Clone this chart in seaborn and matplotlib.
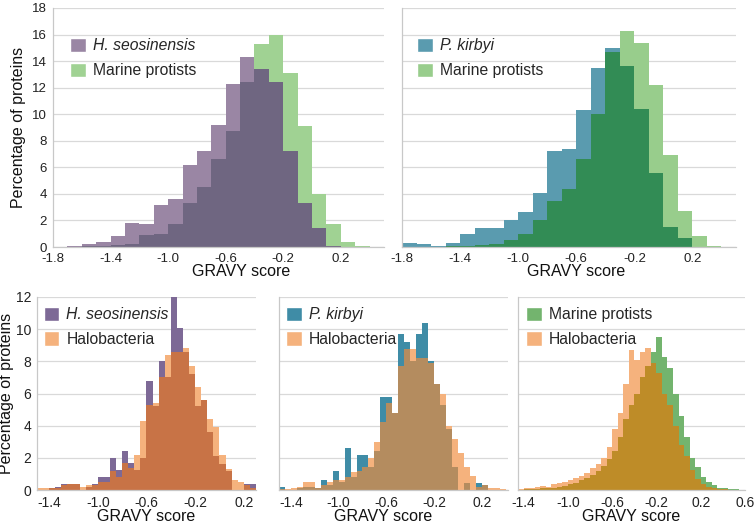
import numpy as np
import pandas as pd
import matplotlib
matplotlib.use('Agg')
import matplotlib.pyplot as plt
from matplotlib.patches import Patch
import seaborn as sns

sns.set_style('white')
plt.rcParams['font.family'] = ['Liberation Sans', 'DejaVu Sans']

# ---- data: percentage of proteins per GRAVY bin ----
# top row: 0.1 wide bins from -1.8 to 0.5
top_bins = np.linspace(-1.8, 0.5, 24)
tl_hseo = [0, 0.1, 0.2, 0.4, 0.85, 1.8, 1.7, 3.2, 3.6, 6.2, 7.2, 9.2, 12.3, 14.3, 13.4, 12.4, 7.2, 3.3, 1.4, 0.1, 0, 0, 0]
tl_marine = [0, 0.03, 0.05, 0.1, 0.15, 0.2, 0.9, 1.0, 1.7, 3.3, 4.5, 6.6, 8.7, 12.4, 15.3, 16.0, 13.1, 9.1, 4.0, 1.7, 0.4, 0.05, 0]
tr_pkir = [0.3, 0.2, 0.1, 0.3, 1.0, 1.45, 1.45, 2.0, 2.6, 4.1, 7.25, 7.35, 10.3, 13.5, 15.0, 13.6, 10.4, 5.6, 1.5, 0.65, 0, 0, 0]
tr_marine = [0, 0, 0, 0.05, 0.1, 0.15, 0.2, 0.5, 1.0, 2.0, 3.5, 4.4, 6.6, 10.0, 14.7, 16.3, 15.4, 12.2, 6.9, 2.7, 0.8, 0.1, 0]

# bottom left: 0.05 wide bins from -1.5 to 0.3
bl_bins = np.linspace(-1.5, 0.3, 37)
bl_hseo = [0, 0, 0.1, 0.2, 0.4, 0.4, 0.4, 0, 0.2, 0.4, 0.8, 0.8, 2.0, 1.25, 2.4, 1.7, 1.25, 2.0,
           6.75, 5.2, 8.0, 7.0, 12.0, 10.1, 8.6, 7.2, 5.2, 5.6, 3.6, 2.1, 1.6, 1.2, 0, 0, 0.4, 0.4]
bl_halo = [0.1, 0.1, 0.1, 0.1, 0.3, 0.4, 0.4, 0.2, 0.3, 0.3, 0.5, 0.5, 1.2, 0.8, 1.7, 1.35, 2.2, 4.3,
           5.3, 5.4, 7.0, 8.4, 8.6, 8.6, 8.8, 7.7, 6.4, 5.6, 4.4, 3.9, 2.2, 1.3, 0.6, 0.5, 0.3, 0.1]

# bottom middle: 0.05 wide bins from -1.5 to 0.4
bm_bins = np.linspace(-1.5, 0.4, 39)
bm_pkir = [0.2, 0, 0, 0.1, 0.2, 0.2, 0.1, 0.6, 0.3, 1.2, 0.5, 2.6, 0.8, 2.15, 2.15, 1.4, 2.4, 5.8, 5.8,
           4.8, 9.7, 9.2, 8.0, 9.7, 10.4, 8.0, 6.6, 5.3, 3.8, 1.4, 0, 0.45, 0, 0.45, 0.3, 0, 0, 0]
bm_halo = [0.05, 0.05, 0.1, 0.2, 0.5, 0.5, 0.1, 0.3, 0.5, 0.6, 0.6, 0.8, 1.1, 1.2, 1.4, 2.0, 3.0, 4.2, 5.4,
           4.8, 7.7, 8.75, 8.75, 8.2, 8.2, 7.9, 6.6, 6.0, 4.0, 3.2, 2.3, 1.4, 0.9, 0.2, 0.3, 0.15, 0.1, 0.05]

# bottom right: 0.05 wide bins from -1.45 to 0.6
br_bins = np.linspace(-1.45, 0.6, 42)
br_marine = [0, 0.05, 0.05, 0.05, 0.1, 0.1, 0.15, 0.2, 0.25, 0.35, 0.45, 0.6, 0.75, 0.95, 1.2, 1.5, 1.9, 2.4,
             3.3, 4.4, 5.3, 6.0, 7.0, 7.7, 8.6, 9.5, 8.3, 7.6, 6.0, 4.6, 3.3, 2.0, 1.45, 0.8, 0.5, 0.3,
             0.15, 0.1, 0.05, 0.05, 0]
br_halo = [0.05, 0.1, 0.1, 0.2, 0.25, 0.2, 0.35, 0.45, 0.5, 0.6, 0.75, 0.9, 1.05, 1.35, 1.6, 2.0, 2.7, 3.8,
           4.8, 6.6, 8.7, 8.1, 8.6, 8.8, 7.9, 7.3, 6.0, 5.3, 4.0, 2.8, 2.1, 1.25, 0.7, 0.4, 0.2, 0.1,
           0.05, 0.05, 0, 0, 0]

top_ticks = [-1.8, -1.4, -1.0, -0.6, -0.2, 0.2]
top_labels = ['-1.8', '-1.4', '-1.0', '-0.6', '-0.2', '0.2']
bot_ticks = [-1.4, -1.0, -0.6, -0.2, 0.2]
bot_labels = ['-1.4', '-1.0', '-0.6', '-0.2', '0.2']
br_ticks = [-1.4, -1.0, -0.6, -0.2, 0.2, 0.6]
br_labels = ['-1.4', '-1.0', '-0.6', '-0.2', '0.2', '0.6']

W, H = 755, 529
fig = plt.figure(figsize=(W / 100, H / 100), dpi=100)


def px_axes(l, t, r, b):
    return fig.add_axes([l / W, 1 - b / H, (r - l) / W, (b - t) / H])


def draw(ax, bins, a, b, ca, cb, cab, la, lb, italic_a, italic_b, xlim, ymax, fs_leg):
    bins = np.asarray(bins)
    centers = (bins[:-1] + bins[1:]) / 2
    a = np.asarray(a, dtype=float)
    b = np.asarray(b, dtype=float)
    for vals, c in [(a, ca), (b, cb), (np.minimum(a, b), cab)]:
        df = pd.DataFrame({'gravy': centers, 'pct': vals})
        sns.histplot(data=df, x='gravy', weights='pct', bins=list(bins), element='step', fill=True,
                     color=c, alpha=1, linewidth=0, ax=ax)
    ax.set_xlim(*xlim)
    ax.set_ylim(0, ymax)
    ax.set_yticks(np.arange(0, ymax + 0.1, 2))
    ax.set_axisbelow(True)
    ax.grid(axis='y', color='#d9d9d9', linewidth=0.9)
    ax.grid(axis='x', visible=False)
    for s in ['top', 'right']:
        ax.spines[s].set_visible(False)
    for s in ['left', 'bottom']:
        ax.spines[s].set_color('#c8c8c8')
        ax.spines[s].set_linewidth(0.9)
    ax.tick_params(axis='both', which='both', direction='out', length=3, width=0.8,
                   color='#c8c8c8', labelcolor='#222222', pad=1.5)
    ax.tick_params(axis='x', which='minor', length=2)
    ax.set_ylabel('')
    ax.set_xlabel('GRAVY score', fontsize=11.5, color='#111111')
    handles = [Patch(facecolor=ca, label=la), Patch(facecolor=cb, label=lb)]
    leg = ax.legend(handles=handles, loc='upper left', frameon=False, fontsize=fs_leg,
                    handlelength=1.0, handleheight=1.0, handletextpad=0.45,
                    labelspacing=0.6, borderpad=0, borderaxespad=0)
    for t, it in zip(leg.get_texts(), [italic_a, italic_b]):
        if it:
            t.set_fontstyle('italic')
    return leg


# top left
ax1 = px_axes(53, 8, 384, 247)
leg = draw(ax1, top_bins, tl_hseo, tl_marine, '#9a86a4', '#a0d293', '#6f6681',
           'H. seosinensis', 'Marine protists', True, False, (-1.8, 0.5), 18, 11.3)
leg.set_bbox_to_anchor((0.051, 0.875))
ax1.set_xticks(top_ticks, top_labels)
ax1.set_xticks(np.arange(-1.8, 0.51, 0.1), minor=True)
ax1.tick_params(labelsize=9.5)
ax1.set_ylabel('Percentage of proteins', fontsize=11.5, color='#111111')
ax1.yaxis.set_label_coords(-0.083, 0.5)
ax1.xaxis.set_label_coords(0.568, -0.07)

# top right
ax2 = px_axes(402, 8, 736, 247)
leg = draw(ax2, top_bins, tr_pkir, tr_marine, '#5a9baf', '#98cd8c', '#328c55',
           'P. kirbyi', 'Marine protists', True, False, (-1.8, 0.5), 18, 11.3)
leg.set_bbox_to_anchor((0.045, 0.875))
ax2.set_xticks(top_ticks, top_labels)
ax2.set_xticks(np.arange(-1.8, 0.51, 0.1), minor=True)
ax2.tick_params(labelsize=9.5)
ax2.set_yticklabels([])
ax2.xaxis.set_label_coords(0.522, -0.07)

# bottom left
ax3 = px_axes(37, 297, 256, 490)
leg = draw(ax3, bl_bins, bl_hseo, bl_halo, '#7d6996', '#f5b27d', '#c87346',
           'H. seosinensis', 'Halobacteria', True, False, (-1.5, 0.3), 12, 11.3)
leg.set_bbox_to_anchor((0.03, 0.95))
ax3.set_xticks(bot_ticks, bot_labels)
ax3.set_xticks(np.arange(-1.5, 0.31, 0.1), minor=True)
ax3.tick_params(axis='x', labelsize=10, pad=1)
ax3.tick_params(axis='y', labelsize=10, pad=1)
ax3.set_ylabel('Percentage of proteins', fontsize=11.5, color='#111111')
ax3.yaxis.set_label_coords(-0.103, 0.5)
ax3.xaxis.set_label_coords(0.498, -0.1)

# bottom middle
ax4 = px_axes(279, 297, 508, 490)
leg = draw(ax4, bm_bins, bm_pkir, bm_halo, '#3f8ca6', '#f5b27d', '#b48c5f',
           'P. kirbyi', 'Halobacteria', True, False, (-1.5, 0.42), 12, 11.3)
leg.set_bbox_to_anchor((0.03, 0.95))
ax4.set_xticks(bot_ticks, bot_labels)
ax4.set_xticks(np.arange(-1.5, 0.41, 0.1), minor=True)
ax4.tick_params(axis='x', labelsize=10, pad=1)
ax4.set_yticklabels([])
ax4.xaxis.set_label_coords(0.456, -0.1)

# bottom right
ax5 = px_axes(518, 297, 745, 490)
leg = draw(ax5, br_bins, br_marine, br_halo, '#73b46e', '#f5b27d', '#be8c28',
           'Marine protists', 'Halobacteria', False, False, (-1.45, 0.6), 12, 11.3)
leg.set_bbox_to_anchor((0.035, 0.95))
ax5.set_xticks(br_ticks, br_labels)
ax5.set_xticks(np.arange(-1.4, 0.61, 0.1), minor=True)
ax5.tick_params(axis='x', labelsize=10, pad=1)
ax5.set_yticklabels([])
ax5.xaxis.set_label_coords(0.498, -0.1)

fig.savefig('out.png', dpi=100)
